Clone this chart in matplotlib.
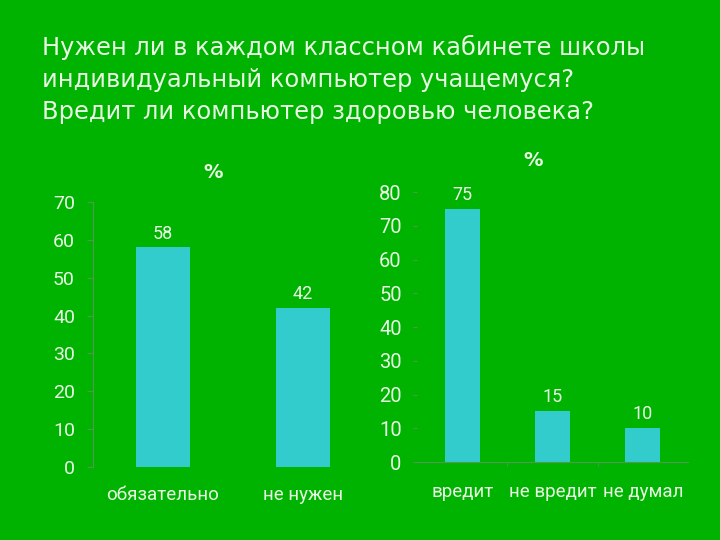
import matplotlib.pyplot as plt

# данные
title_lines = ["Нужен ли в каждом классном кабинете школы",
               "индивидуальный компьютер учащемуся?",
               "Вредит ли компьютер здоровью человека?"]

need_labels = ["обязательно", "не нужен"]
need_values = [58, 42]
need_ticks = [0, 10, 20, 30, 40, 50, 60, 70]

harm_labels = ["вредит", "не вредит", "не думал"]
harm_values = [75, 15, 10]
harm_ticks = [0, 10, 20, 30, 40, 50, 60, 70, 80]

bg = "#00b300"
bar_col = "#33cccc"
txt = "#e8f8e4"
axis_col = "#4f9a4f"
ax_font = ['Roboto', 'DejaVu Sans']

plt.rcParams['font.family'] = ['DejaVu Sans']

fig = plt.figure(figsize=(7.2, 5.4), dpi=100, facecolor=bg)

fig.text(42 / 720, 1 - 47 / 540, title_lines[0], color=txt, fontsize=17.4, va="center", ha="left")
fig.text(42 / 720, 1 - 80 / 540, title_lines[1], color=txt, fontsize=17.4, va="center", ha="left")
fig.text(42 / 720, 1 - 112 / 540, title_lines[2], color=txt, fontsize=17.4, va="center", ha="left")

# левая диаграмма
ax1 = fig.add_axes([93 / 720, 73 / 540, 280 / 720, 265 / 540])
ax1.set_facecolor(bg)
x1 = range(len(need_values))
ax1.bar(x1, need_values, width=0.39, color=bar_col)
ax1.set_xlim(-0.5, 1.5)
ax1.set_ylim(0, 70)
ax1.set_yticks(need_ticks)
ax1.set_xticks(list(x1))
ax1.set_yticklabels([str(t) for t in need_ticks], family=ax_font)
ax1.set_xticklabels(need_labels, family=ax_font)
for s in ["top", "right", "bottom"]:
    ax1.spines[s].set_visible(False)
ax1.spines["left"].set_color(axis_col)
ax1.tick_params(axis="y", colors=axis_col, labelcolor=txt, labelsize=14, length=4, pad=9)
ax1.tick_params(axis="x", length=0, labelcolor=txt, labelsize=13.5, pad=14)
for i, v in enumerate(need_values):
    ax1.annotate(str(v), (i, v), xytext=(0, 10), textcoords="offset points", family=ax_font,
                 ha="center", va="center", color=txt, fontsize=13)
fig.text(213 / 720, 1 - 172 / 540, "%", color=txt, fontsize=14, fontweight="bold", ha="center", va="center")

# правая диаграмма
ax2 = fig.add_axes([417 / 720, 78 / 540, 271 / 720, 270 / 540])
ax2.set_facecolor(bg)
x2 = range(len(harm_values))
ax2.bar(x2, harm_values, width=0.39, color=bar_col)
ax2.set_xlim(-0.5, 2.5)
ax2.set_ylim(0, 80)
ax2.set_yticks(harm_ticks)
ax2.set_xticks(list(x2))
ax2.set_yticklabels([str(t) for t in harm_ticks], family=ax_font)
ax2.set_xticklabels(harm_labels, family=ax_font)
ax2.set_xticks([0.5, 1.5], minor=True)
for s in ["top", "right", "left"]:
    ax2.spines[s].set_visible(False)
ax2.spines["bottom"].set_color(axis_col)
ax2.tick_params(axis="y", colors=axis_col, labelcolor=txt, labelsize=14.5, length=3, pad=8)
ax2.tick_params(axis="x", which="major", length=0, labelcolor=txt, labelsize=13.5, pad=15)
ax2.tick_params(axis="x", which="minor", colors=axis_col, length=3)
for i, v in enumerate(harm_values):
    ax2.annotate(str(v), (i, v), xytext=(0, 10), textcoords="offset points", family=ax_font,
                 ha="center", va="center", color=txt, fontsize=13)
fig.text(533 / 720, 1 - 161 / 540, "%", color=txt, fontsize=14, fontweight="bold", ha="center", va="center")

fig.savefig("out.png", dpi=100, facecolor=bg)
